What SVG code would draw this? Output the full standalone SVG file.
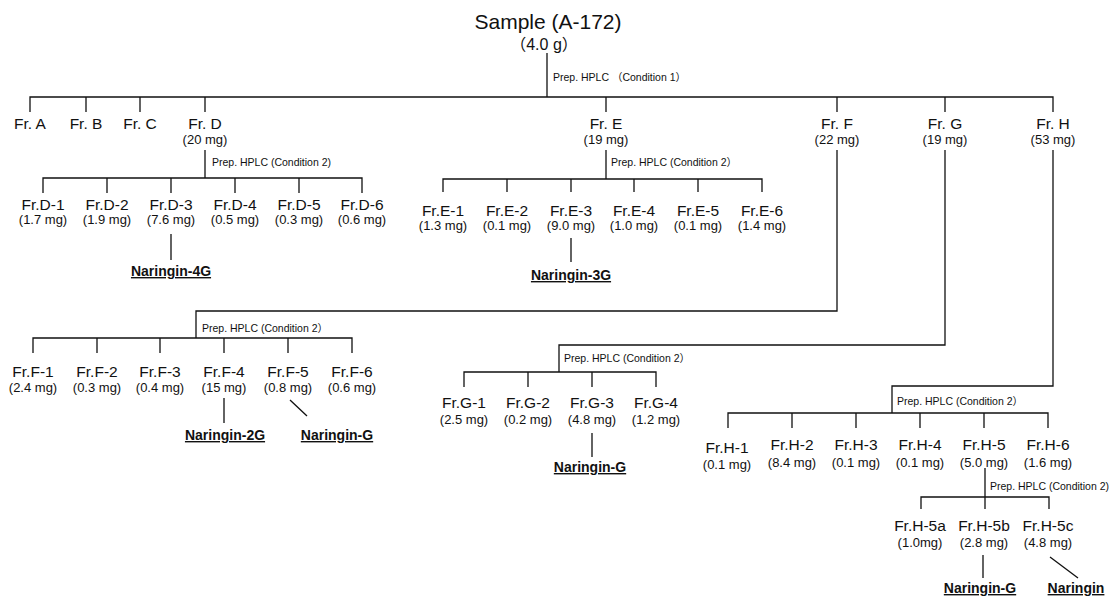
<svg xmlns="http://www.w3.org/2000/svg" width="1114" height="600" viewBox="0 0 1114 600">
<style>
text{font-family:"Liberation Sans","Noto Sans CJK JP",Arial,sans-serif;fill:#111;text-anchor:middle}
.t{font-size:21px}
.w{font-size:16px}
.n{font-size:15.5px}
.m{font-size:13px}
.l{font-size:10.5px;text-anchor:start}
.c{font-size:14px;font-weight:bold;text-decoration:underline}
.k path{fill:none;stroke:#111;stroke-width:1.3}
</style>
<rect width="1114" height="600" fill="#fff"/>
<g id="connectors" class="k">
<path d="M547 53V97M30 112V97H1053V112M86 97V112M140 97V112M205 97V112M606 97V112M837 97V112M945 97V112"/>
<path d="M205 150V178M43 193V178H362V193M107 178V193M171 178V193M235 178V193M299 178V193M171 234V260"/>
<path d="M606 150V179M443 192V179H762V192M507 179V192M571 179V192M634 179V192M698 179V192M571 238V262"/>
<path d="M837 150V311H196V338M33 353V338H352V353M97 338V353M160 338V353M224 338V353M288 338V353M224 398V423M290 400L307 416"/>
<path d="M945 150V345H559V372M464 387V372H656V387M528 372V387M592 372V387M592 433V457"/>
<path d="M1053 150V386H892V413M728 428V413H1048V428M792 413V428M856 413V428M920 413V428M984 413V428"/>
<path d="M985 468V497M921 509V497H1049V509M985 497V509M983 555V578M1050 557L1078 578"/>
</g>
<g id="sample"><text class="t" x="548" y="29">Sample (A-172)</text><text class="w" x="544" y="50">（4.0 g）</text><text class="l" x="553" y="81">Prep. HPLC （Condition 1）</text></g>
<g id="frA"><text class="n" x="30" y="129">Fr. A</text></g>
<g id="frB"><text class="n" x="86" y="129">Fr. B</text></g>
<g id="frC"><text class="n" x="140" y="129">Fr. C</text></g>
<g id="frD"><text class="n" x="205" y="129">Fr. D</text><text class="m" x="205" y="144">(20 mg)</text><text class="l" x="212" y="166">Prep. HPLC (Condition 2)</text></g>
<g id="frE"><text class="n" x="606" y="129">Fr. E</text><text class="m" x="606" y="144">(19 mg)</text><text class="l" x="611" y="166">Prep. HPLC (Condition 2）</text></g>
<g id="frF"><text class="n" x="837" y="129">Fr. F</text><text class="m" x="837" y="144">(22 mg)</text><text class="l" x="202" y="332">Prep. HPLC (Condition 2）</text></g>
<g id="frG"><text class="n" x="945" y="129">Fr. G</text><text class="m" x="945" y="144">(19 mg)</text><text class="l" x="564" y="362">Prep. HPLC (Condition 2）</text></g>
<g id="frH"><text class="n" x="1053" y="129">Fr. H</text><text class="m" x="1053" y="144">(53 mg)</text><text class="l" x="897" y="405">Prep. HPLC (Condition 2）</text></g>
<g id="frD1"><text class="n" x="43" y="210">Fr.D-1</text><text class="m" x="43" y="224">(1.7 mg)</text></g>
<g id="frD2"><text class="n" x="107" y="210">Fr.D-2</text><text class="m" x="107" y="224">(1.9 mg)</text></g>
<g id="frD3"><text class="n" x="171" y="210">Fr.D-3</text><text class="m" x="171" y="224">(7.6 mg)</text></g>
<g id="frD4"><text class="n" x="235" y="210">Fr.D-4</text><text class="m" x="235" y="224">(0.5 mg)</text></g>
<g id="frD5"><text class="n" x="299" y="210">Fr.D-5</text><text class="m" x="299" y="224">(0.3 mg)</text></g>
<g id="frD6"><text class="n" x="362" y="210">Fr.D-6</text><text class="m" x="362" y="224">(0.6 mg)</text></g>
<g id="nar4G"><text class="c" x="171" y="276">Naringin-4G</text></g>
<g id="frE1"><text class="n" x="443" y="216">Fr.E-1</text><text class="m" x="443" y="230">(1.3 mg)</text></g>
<g id="frE2"><text class="n" x="507" y="216">Fr.E-2</text><text class="m" x="507" y="230">(0.1 mg)</text></g>
<g id="frE3"><text class="n" x="571" y="216">Fr.E-3</text><text class="m" x="571" y="230">(9.0 mg)</text></g>
<g id="frE4"><text class="n" x="634" y="216">Fr.E-4</text><text class="m" x="634" y="230">(1.0 mg)</text></g>
<g id="frE5"><text class="n" x="698" y="216">Fr.E-5</text><text class="m" x="698" y="230">(0.1 mg)</text></g>
<g id="frE6"><text class="n" x="762" y="216">Fr.E-6</text><text class="m" x="762" y="230">(1.4 mg)</text></g>
<g id="nar3G"><text class="c" x="571" y="280">Naringin-3G</text></g>
<g id="frF1"><text class="n" x="33" y="377">Fr.F-1</text><text class="m" x="33" y="392">(2.4 mg)</text></g>
<g id="frF2"><text class="n" x="97" y="377">Fr.F-2</text><text class="m" x="97" y="392">(0.3 mg)</text></g>
<g id="frF3"><text class="n" x="160" y="377">Fr.F-3</text><text class="m" x="160" y="392">(0.4 mg)</text></g>
<g id="frF4"><text class="n" x="224" y="377">Fr.F-4</text><text class="m" x="224" y="392">(15 mg)</text></g>
<g id="frF5"><text class="n" x="288" y="377">Fr.F-5</text><text class="m" x="288" y="392">(0.8 mg)</text></g>
<g id="frF6"><text class="n" x="352" y="377">Fr.F-6</text><text class="m" x="352" y="392">(0.6 mg)</text></g>
<g id="nar2G"><text class="c" x="225" y="440">Naringin-2G</text></g>
<g id="narG1"><text class="c" x="337" y="440">Naringin-G</text></g>
<g id="frG1"><text class="n" x="464" y="408">Fr.G-1</text><text class="m" x="464" y="424">(2.5 mg)</text></g>
<g id="frG2"><text class="n" x="528" y="408">Fr.G-2</text><text class="m" x="528" y="424">(0.2 mg)</text></g>
<g id="frG3"><text class="n" x="592" y="408">Fr.G-3</text><text class="m" x="592" y="424">(4.8 mg)</text></g>
<g id="frG4"><text class="n" x="656" y="408">Fr.G-4</text><text class="m" x="656" y="424">(1.2 mg)</text></g>
<g id="narG2"><text class="c" x="590" y="472">Naringin-G</text></g>
<g id="frH1"><text class="n" x="727" y="453">Fr.H-1</text><text class="m" x="727" y="469">(0.1 mg)</text></g>
<g id="frH2"><text class="n" x="792" y="450">Fr.H-2</text><text class="m" x="792" y="467">(8.4 mg)</text></g>
<g id="frH3"><text class="n" x="856" y="450">Fr.H-3</text><text class="m" x="856" y="467">(0.1 mg)</text></g>
<g id="frH4"><text class="n" x="920" y="450">Fr.H-4</text><text class="m" x="920" y="467">(0.1 mg)</text></g>
<g id="frH5"><text class="n" x="984" y="450">Fr.H-5</text><text class="m" x="984" y="467">(5.0 mg)</text><text class="l" x="990" y="490">Prep. HPLC (Condition 2)</text></g>
<g id="frH6"><text class="n" x="1048" y="450">Fr.H-6</text><text class="m" x="1048" y="467">(1.6 mg)</text></g>
<g id="frH5a"><text class="n" x="920" y="531">Fr.H-5a</text><text class="m" x="920" y="547">(1.0mg)</text></g>
<g id="frH5b"><text class="n" x="984" y="531">Fr.H-5b</text><text class="m" x="984" y="547">(2.8 mg)</text></g>
<g id="frH5c"><text class="n" x="1048" y="531">Fr.H-5c</text><text class="m" x="1048" y="547">(4.8 mg)</text></g>
<g id="narG3"><text class="c" x="980" y="593">Naringin-G</text></g>
<g id="nar"><text class="c" x="1076" y="593">Naringin</text></g>
</svg>
